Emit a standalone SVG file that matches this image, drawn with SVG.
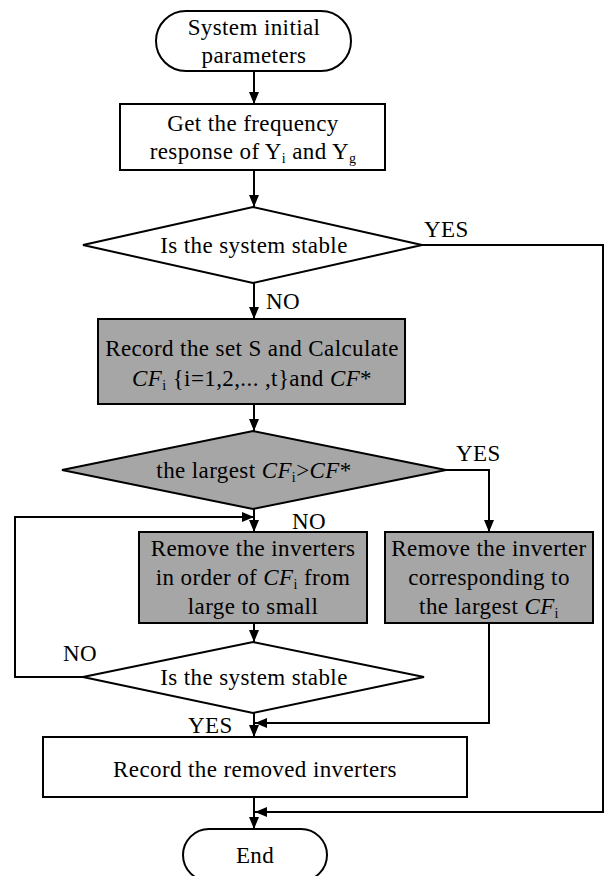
<svg xmlns="http://www.w3.org/2000/svg" width="605" height="876" viewBox="0 0 605 876">
<style>
.shape{stroke:#000;stroke-width:2;fill:#fff}
.gray{fill:#a6a6a6}
.t{font-family:"Liberation Serif","Times New Roman","DejaVu Serif",serif;font-size:23px;letter-spacing:0.4px;fill:#000;text-anchor:middle}
.l{font-family:"Liberation Serif","Times New Roman","DejaVu Serif",serif;font-size:23px;letter-spacing:0.4px;fill:#000}
.it{font-style:italic}
.sub{font-size:14px}
.c{fill:none;stroke:#000;stroke-width:2}
</style>
<defs>
<marker id="ah" markerUnits="userSpaceOnUse" markerWidth="12" markerHeight="10" refX="12" refY="5" orient="auto">
<path d="M0,0 L12,5 L0,10 z" fill="#000"/>
</marker>
</defs>
<g id="connectors">
<path class="c" d="M254,71 V104" marker-end="url(#ah)"/>
<path class="c" d="M254,170 V207" marker-end="url(#ah)"/>
<path class="c" d="M254,283 V319" marker-end="url(#ah)"/>
<path class="c" d="M254,404 V431" marker-end="url(#ah)"/>
<path class="c" d="M254,509 V532" marker-end="url(#ah)"/>
<path class="c" d="M83,677 H15 V517 H254" marker-end="url(#ah)"/>
<path class="c" d="M446,470 H489 V532" marker-end="url(#ah)"/>
<path class="c" d="M254,623 V642" marker-end="url(#ah)"/>
<path class="c" d="M489,623 V723 H255" marker-end="url(#ah)"/>
<path class="c" d="M254,713 V737" marker-end="url(#ah)"/>
<path class="c" d="M254,797 V829" marker-end="url(#ah)"/>
<path class="c" d="M422,245 H603 V812 H255" marker-end="url(#ah)"/>
<text class="l" x="424" y="237">YES</text>
<text class="l" x="266" y="309">NO</text>
<text class="l" x="456" y="461">YES</text>
<text class="l" x="292" y="529">NO</text>
<text class="l" x="63" y="661">NO</text>
<text class="l" x="188" y="733">YES</text>
</g>
<g id="start">
<rect class="shape" x="156" y="11" width="195" height="60" rx="30"/>
<text class="t" x="254" y="35">System initial</text>
<text class="t" x="254" y="63">parameters</text>
</g>
<g id="freq">
<rect class="shape" x="120" y="104" width="265" height="66"/>
<text class="t" x="253" y="131">Get the frequency</text>
<text class="t" x="253" y="159">response of Y<tspan class="sub" dy="4">i</tspan><tspan dy="-4"> and Y</tspan><tspan class="sub" dy="4">g</tspan></text>
</g>
<g id="stable1">
<polygon class="shape" points="253,207 422,245 253,283 83,245"/>
<text class="t" x="254" y="253">Is the system stable</text>
</g>
<g id="record-set">
<rect class="shape gray" x="98" y="319" width="307" height="85"/>
<text class="t" x="252" y="356">Record the set S and Calculate</text>
<text class="t" x="252" y="386"><tspan class="it">CF</tspan><tspan class="sub" dy="4">i</tspan><tspan dy="-4"> {i=1,2,... ,t}and </tspan><tspan class="it">CF</tspan>*</text>
</g>
<g id="largest">
<polygon class="shape gray" points="253,431 446,470 253,509 62,470"/>
<text class="t" x="254" y="478">the largest <tspan class="it">CF</tspan><tspan class="sub" dy="4">i</tspan><tspan dy="-4">&gt;</tspan><tspan class="it">CF</tspan>*</text>
</g>
<g id="remove-order">
<rect class="shape gray" x="139" y="532" width="228" height="91"/>
<text class="t" x="253" y="556">Remove the inverters</text>
<text class="t" x="253" y="585">in order of <tspan class="it">CF</tspan><tspan class="sub" dy="4">i</tspan><tspan dy="-4"> from</tspan></text>
<text class="t" x="253" y="614">large to small</text>
</g>
<g id="remove-largest">
<rect class="shape gray" x="385" y="532" width="208" height="91"/>
<text class="t" x="489" y="556">Remove the inverter</text>
<text class="t" x="489" y="585">corresponding to</text>
<text class="t" x="489" y="614">the largest <tspan class="it">CF</tspan><tspan class="sub" dy="4">i</tspan></text>
</g>
<g id="stable2">
<polygon class="shape" points="253,642 424,677 253,713 83,677"/>
<text class="t" x="254" y="685">Is the system stable</text>
</g>
<g id="record-removed">
<rect class="shape" x="43" y="737" width="424" height="60"/>
<text class="t" x="255" y="777">Record the removed inverters</text>
</g>
<g id="end">
<rect class="shape" x="183" y="829" width="144" height="52" rx="26"/>
<text class="t" x="255" y="863">End</text>
</g>
</svg>
